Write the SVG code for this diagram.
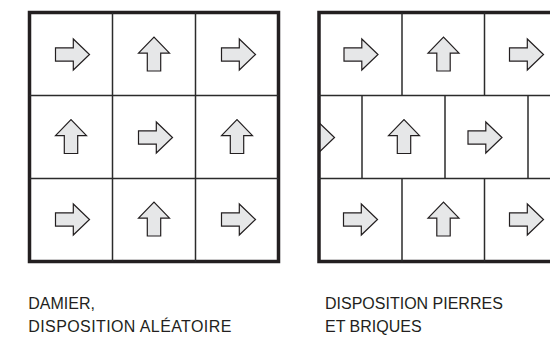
<svg xmlns="http://www.w3.org/2000/svg" xmlns:xlink="http://www.w3.org/1999/xlink" width="550" height="340" viewBox="0 0 550 340">
<style>
.frame{fill:none;stroke:#231f20;stroke-width:3.5}
.line{fill:none;stroke:#2b2b2b;stroke-width:1.5}
.arrow{fill:#e6e7e8;stroke:#231f20;stroke-width:1.2;stroke-linejoin:miter}
.label{font-family:"Liberation Sans",Arial,sans-serif;font-size:16px;fill:#231f20}
</style>
<defs>
<path id="ar" class="arrow" d="M-16.5,-6.7 H1.3 V-15.5 L17.5,0 L1.3,15.5 V6.7 H-16.5 Z"/>
<clipPath id="clipR"><rect x="320" y="14" width="240" height="246"/></clipPath>
</defs>
<g id="damier">
<rect class="frame" x="29.5" y="12.5" width="249" height="249"/>
<g id="damier-lines">
<line class="line" x1="112.5" y1="12.5" x2="112.5" y2="261.5"/>
<line class="line" x1="195.5" y1="12.5" x2="195.5" y2="261.5"/>
<line class="line" x1="29.5" y1="95.5" x2="278.5" y2="95.5"/>
<line class="line" x1="29.5" y1="178.5" x2="278.5" y2="178.5"/>
</g>
<use xlink:href="#ar" transform="translate(72,54.5)"/>
<use xlink:href="#ar" transform="translate(154,54.5) rotate(-90)"/>
<use xlink:href="#ar" transform="translate(238,54.5)"/>
<use xlink:href="#ar" transform="translate(71,137) rotate(-90)"/>
<use xlink:href="#ar" transform="translate(155,137.5)"/>
<use xlink:href="#ar" transform="translate(237,137) rotate(-90)"/>
<use xlink:href="#ar" transform="translate(72,219.5)"/>
<use xlink:href="#ar" transform="translate(154,219.5) rotate(-90)"/>
<use xlink:href="#ar" transform="translate(238,219.5)"/>
</g>
<g id="briques">
<g clip-path="url(#clipR)">
<use xlink:href="#ar" transform="translate(317,137.5)"/>
</g>
<rect class="frame" x="319" y="12.5" width="249" height="249"/>
<g id="briques-lines">
<line class="line" x1="402" y1="12.5" x2="402" y2="95.5"/>
<line class="line" x1="484.5" y1="12.5" x2="484.5" y2="95.5"/>
<line class="line" x1="319" y1="95.5" x2="568" y2="95.5"/>
<line class="line" x1="362" y1="95.5" x2="362" y2="178.5"/>
<line class="line" x1="445" y1="95.5" x2="445" y2="178.5"/>
<line class="line" x1="528" y1="95.5" x2="528" y2="178.5"/>
<line class="line" x1="319" y1="178.5" x2="568" y2="178.5"/>
<line class="line" x1="402" y1="178.5" x2="402" y2="261.5"/>
<line class="line" x1="484.5" y1="178.5" x2="484.5" y2="261.5"/>
</g>
<use xlink:href="#ar" transform="translate(360.5,54.5)"/>
<use xlink:href="#ar" transform="translate(443.5,54.5) rotate(-90)"/>
<use xlink:href="#ar" transform="translate(526,54.5)"/>
<use xlink:href="#ar" transform="translate(404,137) rotate(-90)"/>
<use xlink:href="#ar" transform="translate(484.5,137.5)"/>
<use xlink:href="#ar" transform="translate(360,219.5)"/>
<use xlink:href="#ar" transform="translate(443.5,219.5) rotate(-90)"/>
<use xlink:href="#ar" transform="translate(526,219.5)"/>
</g>
<g id="labels">
<text class="label" x="28.3" y="309.3">DAMIER,</text>
<text class="label" x="28.3" y="331.7" textLength="203" lengthAdjust="spacing">DISPOSITION ALÉATOIRE</text>
<text class="label" x="325" y="309.3">DISPOSITION PIERRES</text>
<text class="label" x="325" y="331.7">ET BRIQUES</text>
</g>
</svg>
